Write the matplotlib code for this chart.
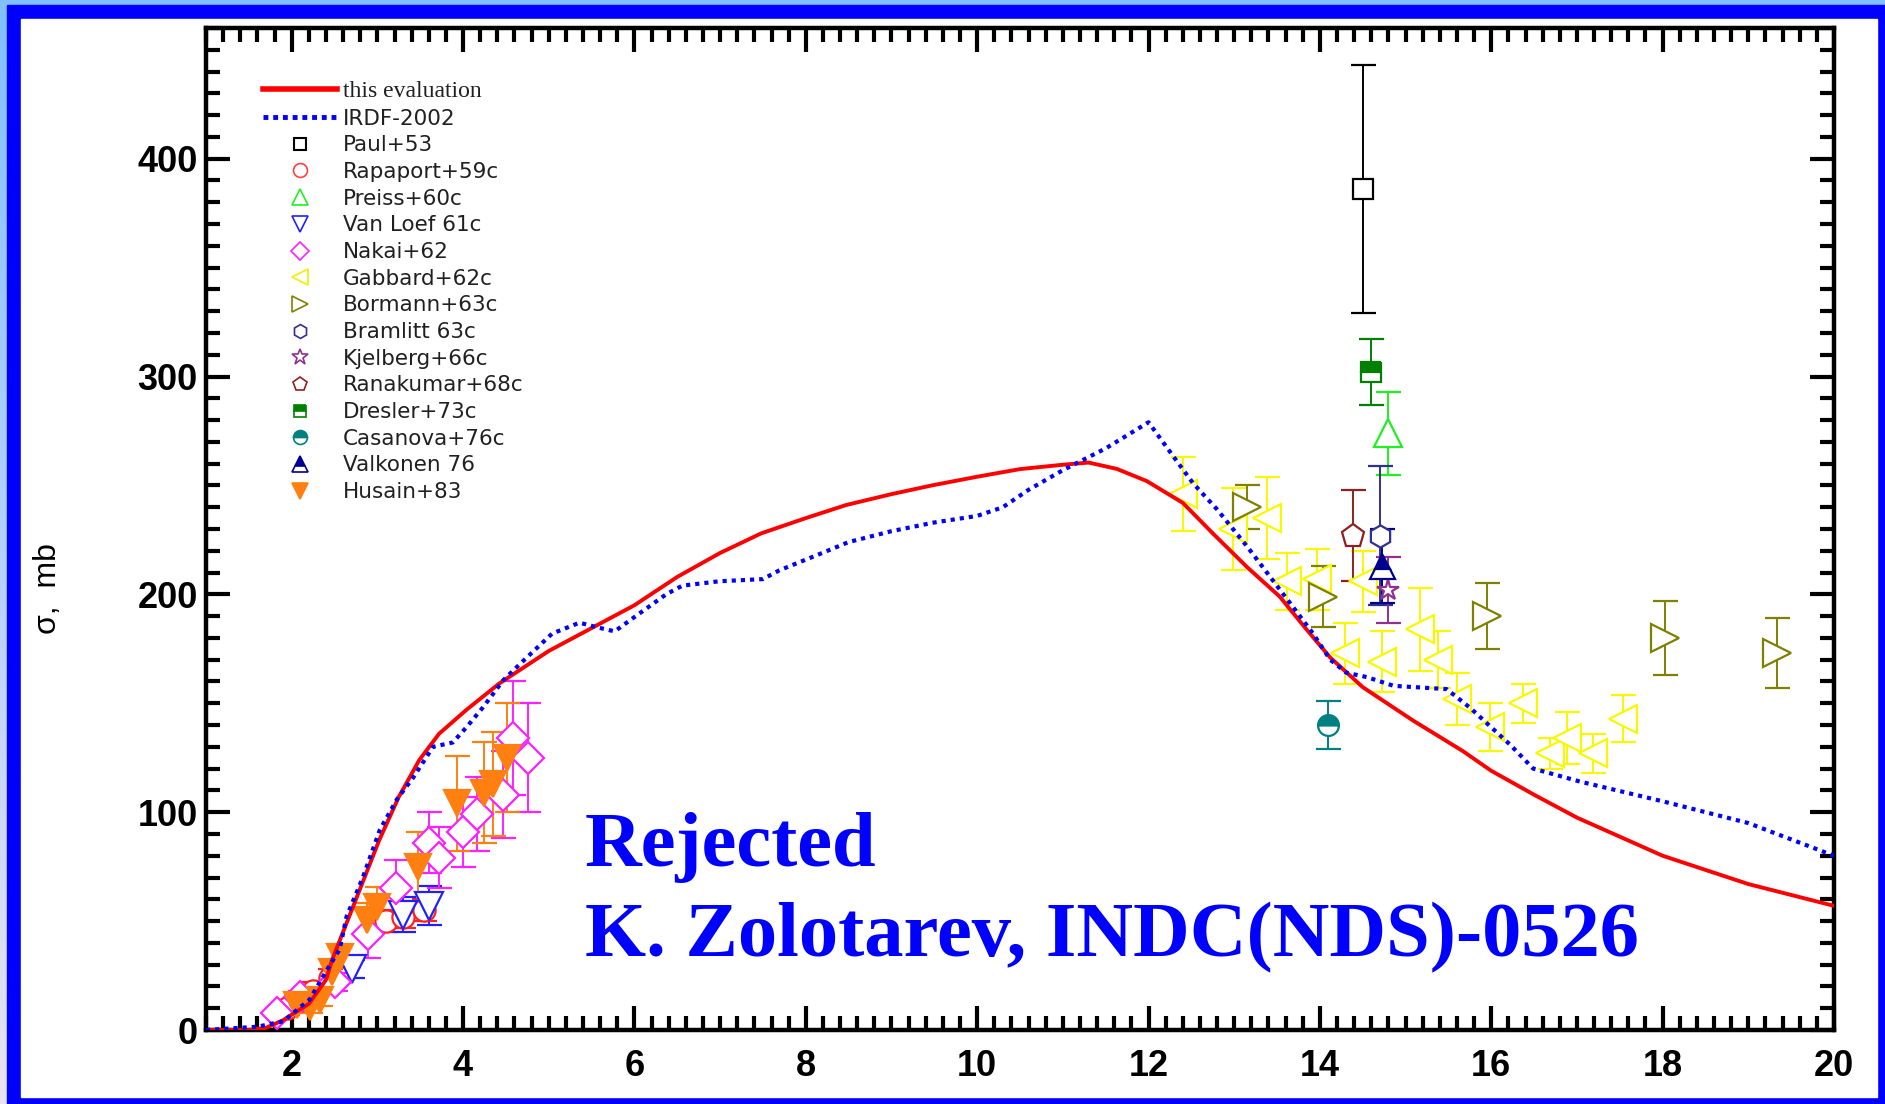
import numpy as np
import matplotlib.pyplot as plt
from matplotlib.lines import Line2D
from matplotlib.patches import Rectangle
from matplotlib.colors import LinearSegmentedColormap

# neutron energy (MeV) and cross section (mb)
e_eval = [1.0, 1.5, 1.7, 1.9, 2.2, 2.4, 2.47, 2.55, 2.79, 3.02, 3.25, 3.49, 3.72, 4.04,
          4.42, 5.0, 6.0, 6.5, 7.0, 7.48, 8.0, 8.47, 9.0, 9.47, 10.0, 10.5, 11.0, 11.3,
          11.63, 11.98, 12.4, 12.75, 13.15, 13.53, 13.85, 14.12, 14.5, 15.09, 15.67, 16.0,
          16.5, 17.0, 18.0, 19.0, 20.0]
s_eval = [0, 0, 1, 4.5, 12, 23, 32, 40, 64, 87, 107, 124, 136, 147,
          159, 174, 195, 208, 219, 228, 235, 241, 246, 250, 254, 257.5, 259.5, 260.5,
          257.6, 252, 242, 228, 212.5, 199, 183.6, 171, 157.4, 142, 128, 119,
          108, 97.5, 80, 67, 57]

e_irdf = [1.0, 1.6, 1.9, 2.21, 2.41, 2.56, 2.64, 2.83, 3.03, 3.23, 3.42, 3.65, 3.88, 4.04,
          4.23, 4.47, 4.69, 5.04, 5.36, 5.55, 5.77, 5.98, 6.37, 6.56, 6.99, 7.5, 7.69, 8.13,
          8.5, 9.0, 9.5, 10.0, 10.3, 10.6, 11.0, 11.5, 12.0, 12.37, 12.52, 12.8, 13.15, 13.42,
          13.69, 13.92, 14.12, 14.31, 14.55, 14.86, 15.48, 15.75, 16.22, 16.49, 17.04, 18.0,
          19.0, 20.0]
s_irdf = [0, 1.5, 4, 14, 27.5, 37, 52, 70, 92, 106, 116, 130, 132, 139,
          148, 160.6, 169, 182, 187, 185, 183, 189, 200, 204, 206, 207, 211, 218,
          224, 229, 233, 236, 240, 248, 257, 267, 279, 259, 251, 239, 222, 208,
          194, 182, 170, 164, 162, 158, 156.5, 148, 131, 120, 114, 105,
          95, 80]

paul_e, paul_s, paul_d = [14.5], [386], [57]
rapa_e = [1.95, 2.1, 2.25, 2.45, 3.1, 3.3, 3.55]
rapa_s = [10, 14, 18, 24, 50, 52, 55]
rapa_d = [3, 3, 4, 4, 5, 5, 5]
preiss_e, preiss_s, preiss_d = [14.8], [274], [19]
vanloef_e, vanloef_s, vanloef_d = [2.7, 3.3, 3.6], [28, 53, 57], [4, 8, 9]
nakai_e = [1.83, 2.1, 2.5, 2.89, 3.22, 3.6, 3.72, 4.0, 4.16, 4.47, 4.58, 4.76]
nakai_s = [8, 15, 22, 44, 65, 86, 79, 91, 99, 108, 134, 125]
nakai_d = [2, 3, 4, 11, 13, 14, 14, 16, 17, 20, 26, 25]
gabbard_e = [12.4, 12.99, 13.38, 13.62, 13.97, 14.5, 14.29, 14.72, 15.17, 15.38, 15.6,
             15.99, 16.37, 16.69, 16.88, 17.19, 17.54]
gabbard_s = [246, 230, 235, 206, 207, 206, 173, 169, 184, 170, 152, 139, 150, 127, 134, 127, 143]
gabbard_d = [17, 19, 19, 13, 14, 14, 14, 14, 19, 13, 12, 11, 9, 7, 12, 9, 11]
bormann_e = [13.15, 14.04, 15.95, 18.03, 19.34]
bormann_s = [240, 199, 190, 180, 173]
bormann_d = [10, 14, 15, 17, 16]
bramlitt_e, bramlitt_s, bramlitt_d = [14.7], [227], [32]
kjelberg_e, kjelberg_s, kjelberg_d = [14.8], [202], [15]
ranakumar_e, ranakumar_s, ranakumar_d = [14.39], [227], [21]
dresler_e, dresler_s, dresler_d = [14.6], [302], [15]
casanova_e, casanova_s, casanova_d = [14.1], [140], [11]
valkonen_e, valkonen_s, valkonen_d = [14.72], [213], [17]
husain_e = [2.06, 2.21, 2.33, 2.47, 2.56, 2.88, 2.99, 3.47, 3.93, 4.24, 4.35, 4.51]
husain_s = [11.5, 10.6, 13.8, 26.6, 33.5, 50.5, 56.5, 75, 104, 109, 113, 125]
husain_d = [3, 3, 3, 4, 5, 8, 9, 16, 22, 23, 24, 25]

W, H = 1885, 1104
fig = plt.figure(figsize=(W / 100, H / 100), dpi=100)

# frame: light gradient, blue border, white inside
bg = fig.add_axes([0, 0, 1, 1], zorder=-10)
cmap = LinearSegmentedColormap.from_list('bg', ['#80c0ff', '#e8e2f2'])
bg.imshow(np.linspace(0, 1, 256).reshape(-1, 1), aspect='auto', cmap=cmap, extent=[0, 1, 0, 1])
bg.add_patch(Rectangle((7 / W, 0), 1 - 7 / W, 1 - 5 / H, color='#0000ff'))
bg.add_patch(Rectangle((21 / W, 1 - 1097 / H), (1877 - 21) / W, (1097 - 19) / H, color='white'))
bg.set_xlim(0, 1)
bg.set_ylim(0, 1)
bg.axis('off')

ax = fig.add_axes([206 / W, 1 - 1030 / H, (1834 - 206) / W, (1030 - 28) / H])
ax.set_facecolor('white')

ax.plot(e_eval, s_eval, color='#ff0000', lw=2.8, zorder=5)
ax.plot(e_irdf, s_irdf, color='#0000ff', lw=3, ls=(0, (1, 1.2)), zorder=6)


def pts(e, s, d, color, marker, ms, fill='full', face='white'):
    ax.errorbar(e, s, yerr=d, fmt=marker, color=color, ms=ms, mfc=face, mec=color,
                mew=1.6, elinewidth=1.4, capsize=9, capthick=1.4, fillstyle=fill,
                markerfacecoloralt='white', zorder=4)


pts(paul_e, paul_s, paul_d, 'black', 's', 15)
pts(rapa_e, rapa_s, rapa_d, '#ff2020', 'o', 16)
pts(preiss_e, preiss_s, preiss_d, '#20f020', '^', 20)
pts(vanloef_e, vanloef_s, vanloef_d, '#2020ff', 'v', 20)
pts(nakai_e, nakai_s, nakai_d, '#ff20ff', 'D', 16)
pts(gabbard_e, gabbard_s, gabbard_d, '#f8f800', '<', 20)
pts(bormann_e, bormann_s, bormann_d, '#808000', '>', 20)
pts(bramlitt_e, bramlitt_s, bramlitt_d, '#303090', 'h', 16)
pts(kjelberg_e, kjelberg_s, kjelberg_d, '#903090', '*', 16)
pts(ranakumar_e, ranakumar_s, ranakumar_d, '#902020', 'p', 17)
pts(dresler_e, dresler_s, dresler_d, '#008000', 's', 15, fill='top', face='#008000')
pts(casanova_e, casanova_s, casanova_d, '#008080', 'o', 15, fill='top', face='#008080')
pts(valkonen_e, valkonen_s, valkonen_d, '#000090', '^', 18, fill='top', face='#000090')
pts(husain_e, husain_s, husain_d, '#ff8010', 'v', 19, face='#ff8010')

ax.set_xlim(1, 20)
ax.set_ylim(0, 460)
ax.set_xticks(np.arange(2, 21, 2), labels=[str(v) for v in range(2, 21, 2)],
              fontsize=26, fontweight='bold', fontfamily='Liberation Sans')
ax.set_xticks(np.arange(1, 20.01, 0.2), minor=True)
ax.set_yticks(np.arange(0, 401, 100), labels=['0', '100', '200', '300', '400'],
              fontsize=26, fontweight='bold', fontfamily='Liberation Sans')
ax.set_yticks(np.arange(0, 461, 10), minor=True)
ax.tick_params(which='both', direction='in', top=True, right=True, width=3)
ax.tick_params(which='major', length=17)
ax.tick_params(which='minor', length=10)
ax.tick_params(axis='x', which='major', pad=14)
ax.tick_params(axis='y', which='major', pad=6)
for sp in ax.spines.values():
    sp.set_linewidth(3.2)

fig.text(48 / W, 1 - 589 / H, '\u03c3,  mb', rotation=90, ha='center', va='center',
         fontsize=23, fontfamily='Liberation Sans')

# legend
handles = [
    Line2D([], [], color='#ff0000', lw=4),
    Line2D([], [], color='#0000ff', lw=3.5, ls=(0, (1, 1))),
    Line2D([], [], ls='none', marker='s', color='black', mfc='white', ms=9, mew=1.5),
    Line2D([], [], ls='none', marker='o', color='#ff4040', mfc='white', ms=10, mew=1.2),
    Line2D([], [], ls='none', marker='^', color='#20f020', mfc='white', ms=12, mew=1.2),
    Line2D([], [], ls='none', marker='v', color='#2020ff', mfc='white', ms=12, mew=1.2),
    Line2D([], [], ls='none', marker='D', color='#ff20ff', mfc='white', ms=9, mew=1.2),
    Line2D([], [], ls='none', marker='<', color='#f0f000', mfc='white', ms=12, mew=1.2),
    Line2D([], [], ls='none', marker='>', color='#808000', mfc='white', ms=12, mew=1.2),
    Line2D([], [], ls='none', marker='h', color='#303090', mfc='white', ms=10, mew=1.2),
    Line2D([], [], ls='none', marker='*', color='#903090', mfc='white', ms=12, mew=1.2),
    Line2D([], [], ls='none', marker='p', color='#902020', mfc='white', ms=10, mew=1.2),
    Line2D([], [], ls='none', marker='s', color='#008000', mfc='#008000', mfcalt='white',
           fillstyle='top', ms=9, mew=1.2),
    Line2D([], [], ls='none', marker='o', color='#008080', mfc='#008080', mfcalt='white',
           fillstyle='top', ms=10, mew=1.2),
    Line2D([], [], ls='none', marker='^', color='#000090', mfc='#000090', mfcalt='white',
           fillstyle='top', ms=12, mew=1.2),
    Line2D([], [], ls='none', marker='v', color='#ff8010', mfc='#ff8010', ms=11, mew=1.2),
]
labels = ['this evaluation', 'IRDF-2002', 'Paul+53', 'Rapaport+59c', 'Preiss+60c',
          'Van Loef 61c', 'Nakai+62', 'Gabbard+62c', 'Bormann+63c', 'Bramlitt 63c',
          'Kjelberg+66c', 'Ranakumar+68c', 'Dresler+73c', 'Casanova+76c', 'Valkonen 76',
          'Husain+83']
leg = ax.legend(handles, labels, loc='upper left', bbox_to_anchor=(263 / W, 1 - 81 / H),
                bbox_transform=fig.transFigure, frameon=False, borderpad=0, borderaxespad=0,
                handlelength=3.44, handletextpad=0.28, labelspacing=0.31,
                prop={'family': 'DejaVu Sans', 'size': 15.5})
for t in leg.get_texts():
    t.set_color('#202020')
leg.get_texts()[0].set_fontfamily('Liberation Serif')
leg.get_texts()[0].set_fontsize(17)

fig.text(585 / W, 1 - 866 / H, 'Rejected', fontsize=56.5, fontweight='bold',
         fontfamily='Liberation Serif', color='#0000ff', va='baseline')
fig.text(585 / W, 1 - 956 / H, 'K. Zolotarev, INDC(NDS)-0526', fontsize=56.5, fontweight='bold',
         fontfamily='Liberation Serif', color='#0000ff', va='baseline')

fig.savefig('out.png', dpi=100)
